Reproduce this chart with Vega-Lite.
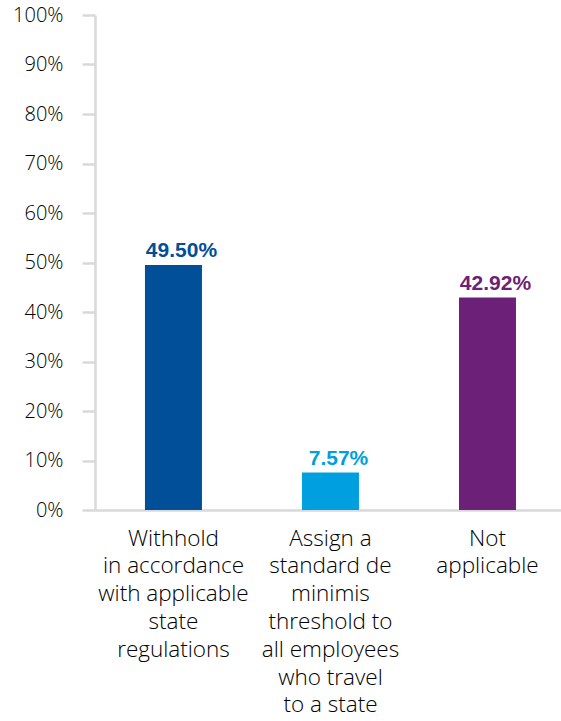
{
  "$schema": "https://vega.github.io/schema/vega-lite/v6.json",
  "width": 466,
  "height": 495,
  "autosize": "none",
  "padding": {"left": 95, "top": 15, "right": 0, "bottom": 211},
  "background": "white",
  "data": {
    "values": [
      {"category": "Withhold|in accordance|with applicable|state|regulations", "value": 49.50, "label": "49.50%", "color": "#004F98"},
      {"category": "Assign a|standard de|minimis|threshold to|all employees|who travel|to a state", "value": 7.57, "label": "7.57%", "color": "#009FDF"},
      {"category": "Not|applicable", "value": 42.92, "label": "42.92%", "color": "#6D2077"}
    ]
  },
  "config": {
    "view": {"stroke": null},
    "font": "Open Sans"
  },
  "encoding": {
    "x": {
      "field": "category",
      "type": "nominal",
      "sort": null,
      "scale": {"paddingInner": 0.637, "paddingOuter": 0.3025, "align": 0.526},
      "axis": {
        "title": null,
        "labelAngle": 0,
        "labelExpr": "split(datum.label, '|')",
        "labelFont": "Open Sans",
        "labelFontWeight": 300,
        "labelFontSize": 22.5,
        "labelLineHeight": 27.8,
        "labelColor": "#000000",
        "labelPadding": 17,
        "labelBaseline": "top",
        "ticks": false,
        "domainColor": "#d9d9d9",
        "domainWidth": 2.5,
        "grid": false
      }
    },
    "y": {
      "field": "value",
      "type": "quantitative",
      "scale": {"domain": [0, 100], "nice": false},
      "axis": {
        "title": null,
        "values": [0, 10, 20, 30, 40, 50, 60, 70, 80, 90, 100],
        "labelExpr": "datum.value + '%'",
        "labelFont": "Open Sans",
        "labelFontWeight": 300,
        "labelFontSize": 20,
        "labelColor": "#000000",
        "labelPadding": 19,
        "tickSize": 13,
        "tickColor": "#d9d9d9",
        "tickWidth": 2.5,
        "domainColor": "#d9d9d9",
        "domainWidth": 2.5,
        "grid": false
      }
    }
  },
  "layer": [
    {
      "mark": {"type": "bar"},
      "encoding": {
        "color": {"field": "color", "type": "nominal", "scale": null, "legend": null}
      }
    },
    {
      "mark": {"type": "text", "baseline": "alphabetic", "dy": -8, "dx": 8, "fontSize": 21, "fontWeight": "bold", "font": "Liberation Sans"},
      "encoding": {
        "text": {"field": "label"},
        "color": {"field": "color", "type": "nominal", "scale": null, "legend": null}
      }
    }
  ]
}
